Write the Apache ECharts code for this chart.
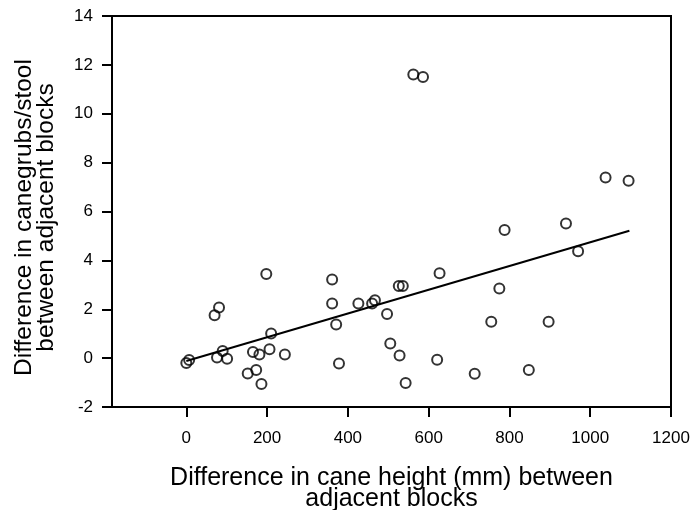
<!DOCTYPE html>
<html>
<head>
<meta charset="utf-8">
<script src="https://cdn.jsdelivr.net/npm/echarts@6/dist/echarts.min.js"></script>
<style>
  html, body { margin: 0; padding: 0; background: #fff; }
  #main { width: 691px; height: 510px; }
</style>
</head>
<body>
<div id="main"></div>
<script>
// cane height difference (mm) and canegrub difference for each block pair
const heightDiff = [198, 81, 70, 210, 7, 0, 90, 76, 101, 165, 181, 206, 244, 152, 173, 186,
  361, 361, 426, 460, 467, 371, 497, 526, 536, 627, 505, 528, 378, 543, 621, 714,
  755, 1038, 1095, 788, 940, 970, 775, 897, 848, 562, 586];
const grubDiff = [3.44, 2.07, 1.75, 1.01, -0.08, -0.2, 0.29, 0.03, -0.03, 0.25, 0.15, 0.36, 0.15, -0.63, -0.49, -1.06,
  3.22, 2.24, 2.24, 2.24, 2.37, 1.38, 1.81, 2.95, 2.95, 3.47, 0.6, 0.11, -0.22, -1.02, -0.07, -0.64,
  1.49, 7.39, 7.26, 5.24, 5.51, 4.37, 2.85, 1.49, -0.49, 11.61, 11.5];
// fitted line end points
const fitX = [0, 1097];
const fitY = [-0.12, 5.21];
const xTicks = [0, 200, 400, 600, 800, 1000, 1200];

const font = 'Liberation Sans, Arial, sans-serif';
const chart = echarts.init(document.getElementById('main'));

chart.setOption({
  animation: false,
  grid: {
    left: 112, top: 16, right: 20, bottom: 103,
    outerBoundsMode: 'none',
    show: true, borderColor: '#000', borderWidth: 2, backgroundColor: 'transparent'
  },
  xAxis: {
    type: 'value',
    min: -184,
    max: 1200,
    splitLine: { show: false },
    axisLine: { onZero: false, lineStyle: { color: '#000', width: 2 } },
    axisTick: { show: true, length: 10, customValues: xTicks, lineStyle: { color: '#000', width: 2 } },
    axisLabel: {
      customValues: xTicks, color: '#000', fontSize: 17, fontFamily: font, margin: 23,
      formatter: v => String(v)
    },
    name: 'Difference in cane height (mm) between\nadjacent blocks',
    nameLocation: 'middle',
    nameGap: 60,
    nameTextStyle: { color: '#000', fontSize: 25, fontFamily: font, lineHeight: 21.5 }
  },
  yAxis: {
    type: 'value',
    min: -2,
    max: 14,
    interval: 2,
    splitLine: { show: false },
    axisLine: { onZero: false, lineStyle: { color: '#000', width: 2 } },
    axisTick: { show: true, length: 10, lineStyle: { color: '#000', width: 2 } },
    axisLabel: { color: '#000', fontSize: 17, fontFamily: font, margin: 19 },
    name: 'Difference in canegrubs/stool\nbetween adjacent blocks',
    nameLocation: 'middle',
    nameGap: 55,
    nameTextStyle: { color: '#000', fontSize: 24.5, fontFamily: font, lineHeight: 22, padding: [0, 12, 0, 0] }
  },
  series: [
    {
      type: 'scatter',
      data: heightDiff.map((x, i) => [x, grubDiff[i]]),
      symbol: 'circle',
      symbolSize: 10,
      itemStyle: { color: 'transparent', borderColor: '#000', borderWidth: 2 }
    },
    {
      type: 'line',
      data: fitX.map((x, i) => [x, fitY[i]]),
      symbol: 'none',
      lineStyle: { color: '#000', width: 2 }
    }
  ]
});
</script>
</body>
</html>
